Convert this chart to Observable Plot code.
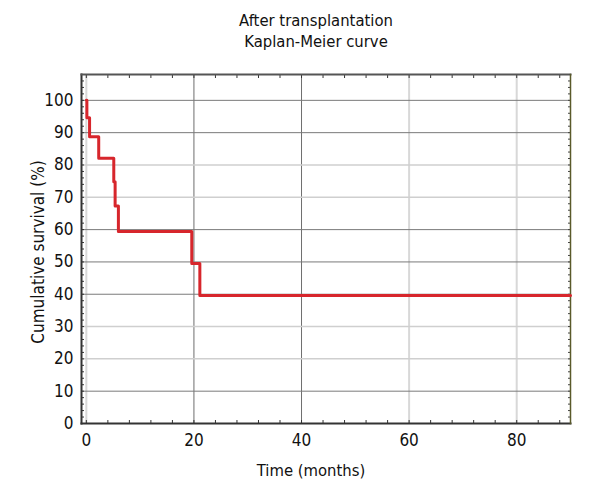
<!DOCTYPE html>
<html>
<head>
<meta charset="utf-8">
<script src="https://cdn.jsdelivr.net/npm/d3@7"></script>
<script src="https://cdn.jsdelivr.net/npm/@observablehq/plot@0.6"></script>
<style>
  html, body { margin: 0; padding: 0; background: #fff; }
  #chart svg { display: block; font-stretch: condensed; }
  #chart svg text { font-stretch: condensed; }
</style>
</head>
<body>
<div id="chart"></div>
<script>
const titleLines = ["After transplantation", "Kaplan-Meier curve"];
const xLabel = "Time (months)";
const yLabel = "Cumulative survival (%)";
const xTicks = [0, 20, 40, 60, 80];
const yTicks = [0, 10, 20, 30, 40, 50, 60, 70, 80, 90, 100];
const times    = [0,   0.1,  0.6,  2.3,  5.1,  5.35, 5.96, 19.6, 21.1, 90];
const survival = [100, 94.6, 88.7, 82.1, 74.8, 67.3, 59.4, 49.5, 39.6, 39.6];

const data = times.map((t, i) => ({t, s: survival[i]}));
const font = "'DejaVu Sans Condensed', 'DejaVu Sans', sans-serif";

const lightX = new Set([0, 60, 80]);
const lightY = new Set([80, 70, 30, 20]);

const plot = Plot.plot({
  width: 600,
  height: 500,
  marginLeft: 81,
  marginRight: 30,
  marginTop: 74,
  marginBottom: 77,
  style: {fontFamily: font, fontSize: "17px", color: "#111", background: "#fff"},
  x: {domain: [-0.9, 90], label: null},
  y: {domain: [0, 108], label: null},
  marks: [
    // grid
    Plot.ruleX(xTicks.filter(d => lightX.has(d)), {x: d => d, stroke: "#d8d8d8", strokeWidth: 2}),
    Plot.ruleX(xTicks.filter(d => !lightX.has(d)), {x: d => d, stroke: "#6e6e6e", strokeWidth: 1}),
    Plot.ruleY(yTicks.filter(d => d > 0 && lightY.has(d)), {y: d => d, stroke: "#cfcfcf", strokeWidth: 1.5}),
    Plot.ruleY(yTicks.filter(d => d > 0 && !lightY.has(d)), {y: d => d, stroke: "#7a7a7a", strokeWidth: 1}),
    // minor inner ticks
    Plot.axisY({ticks: d3.range(0, 108, 2), tickSize: -3, text: null, stroke: "#333", strokeWidth: 1}),
    Plot.axisX({ticks: d3.range(0, 91, 4), tickSize: -3, text: null, stroke: "#333", strokeWidth: 1}),
    Plot.axisX({ticks: d3.range(0, 91, 4), anchor: "top", tickSize: -3, text: null, stroke: "#333", strokeWidth: 1}),
    Plot.axisY({ticks: d3.range(0, 108, 2), anchor: "right", tickSize: -3, text: null, stroke: "#444", strokeWidth: 1}),
    // labels
    Plot.axisY({ticks: yTicks, tickSize: 0, tickPadding: 8, label: null, fontSize: 17}),
    Plot.axisX({ticks: xTicks, tickSize: 0, tickPadding: 10, label: null, fontSize: 17}),
    // frame
    Plot.frame({anchor: "left", stroke: "#333", strokeWidth: 2}),
    Plot.frame({anchor: "bottom", stroke: "#333", strokeWidth: 2}),
    Plot.frame({anchor: "top", stroke: "#555", strokeWidth: 2}),
    Plot.frame({anchor: "right", stroke: "#5a5a2a", strokeWidth: 1.5}),
    // curve
    Plot.line(data, {x: "t", y: "s", curve: "step-after", stroke: "#d7262c", strokeWidth: 3}),
    // axis titles
    Plot.text([xLabel], {frameAnchor: "bottom", dy: 52, dx: -15, text: d => d, fontSize: 16.5, fill: "#111"}),
    Plot.text([yLabel], {frameAnchor: "left", dx: -43, dy: 3, rotate: -90, textAnchor: "middle", text: d => d, fontSize: 17, fill: "#111"}),
    Plot.text([titleLines.join("\n")], {frameAnchor: "top", dy: -63, dx: -10, lineHeight: 1.25, lineAnchor: "top", text: d => d, fontSize: 16.5, fill: "#111"})
  ]
});
document.getElementById("chart").appendChild(plot);
</script>
</body>
</html>
